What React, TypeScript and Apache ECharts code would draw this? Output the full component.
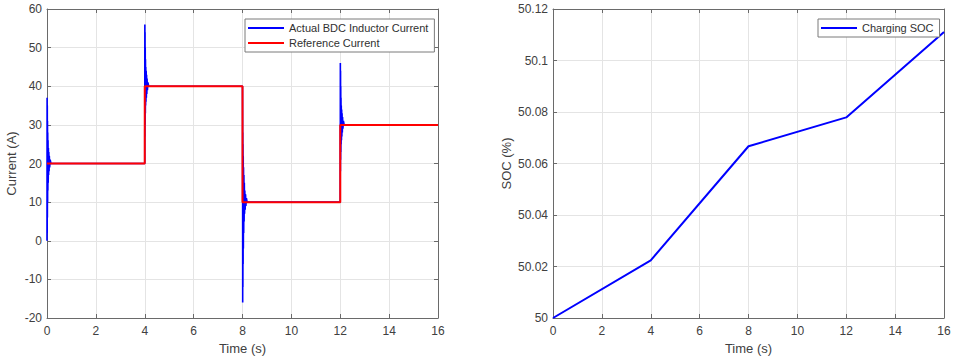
import React, { useEffect, useRef } from "react";
import * as echarts from "echarts";

// Time axis ticks shared by both panels
const timeTicks = [0, 2, 4, 6, 8, 10, 12, 14, 16];

// Reference current (A): step profile [time, value]
const referenceCurrent: [number, number][] = [
  [0, 20], [4, 20], [4, 40], [8, 40], [8, 10], [12, 10], [12, 30], [16, 30],
];

// Measured BDC inductor current (A), ringing after each step
const transientStart: [number, number][] = [
  [0, 0], [0.004, 37], [0.008, 2], [0.012, 35], [0.016, 6], [0.02, 31], [0.025, 10],
  [0.03, 28], [0.036, 13], [0.042, 26], [0.05, 15], [0.058, 24], [0.066, 17], [0.075, 23],
  [0.085, 18], [0.095, 22], [0.11, 19], [0.13, 21], [0.16, 20],
];
const transientUp40: [number, number][] = [
  [4, 20], [4.004, 56], [4.008, 27], [4.012, 54], [4.016, 30], [4.02, 50], [4.025, 33],
  [4.03, 47], [4.036, 35], [4.042, 45], [4.05, 36], [4.058, 44], [4.066, 37], [4.075, 43],
  [4.085, 38], [4.095, 42], [4.11, 39], [4.13, 41], [4.16, 40],
];
const transientDown10: [number, number][] = [
  [8, 40], [8.004, 31], [8.008, -16], [8.012, 28], [8.016, -12], [8.02, 25], [8.025, -6],
  [8.03, 22], [8.036, -2], [8.042, 19], [8.05, 2], [8.058, 17], [8.066, 5], [8.075, 15],
  [8.085, 7], [8.095, 13], [8.11, 8], [8.125, 12], [8.14, 9], [8.16, 11], [8.19, 10],
];
const transientUp30: [number, number][] = [
  [12, 10], [12.004, 46], [12.008, 18], [12.012, 44], [12.016, 21], [12.02, 40], [12.025, 23],
  [12.03, 37], [12.036, 25], [12.042, 35], [12.05, 26], [12.058, 34], [12.066, 27], [12.075, 33],
  [12.085, 28], [12.095, 32], [12.11, 29], [12.13, 31], [12.16, 30],
];
const actualTail: [number, number][] = [[16, 30]];

// Battery state of charge while charging (%)
const socTime = [0, 4, 8, 12, 16];
const socValues = [50, 50.0224, 50.0667, 50.0779, 50.1111];

const currentTicks = [-20, -10, 0, 10, 20, 30, 40, 50, 60];
const socTicks = [50, 50.02, 50.04, 50.06, 50.08, 50.1, 50.12];

const FONT = "Liberation Sans, Arial, Helvetica, sans-serif";
const TEXT = "#404040";
const AXIS = "#6a6a6a";
const GRIDLINE = "#e4e4e4";

export default function App() {
  const ref = useRef<HTMLDivElement>(null);

  useEffect(() => {
    if (!ref.current) return;
    const chart = echarts.init(ref.current, null, { renderer: "svg" });

    const actualCurrent = [
      ...transientStart,
      ...transientUp40,
      ...transientDown10,
      ...transientUp30,
      ...actualTail,
    ];

    const grids = [
      { left: 47, top: 9, width: 391, height: 309 },
      { left: 553, top: 9, width: 391, height: 309 },
    ];

    const xBase = (gridIndex: number) => ({
      type: "value" as const,
      gridIndex,
      min: timeTicks[0],
      max: timeTicks[timeTicks.length - 1],
      interval: 2,
    });

    const mainX = (gridIndex: number) => ({
      ...xBase(gridIndex),
      position: "bottom" as const,
      name: "Time (s)",
      nameLocation: "middle" as const,
      nameGap: 24,
      nameTextStyle: { color: TEXT, fontSize: 13, fontFamily: FONT },
      axisLine: { show: true, onZero: false, lineStyle: { color: AXIS, width: 1 } },
      axisTick: { show: true, inside: true, length: 4, lineStyle: { color: AXIS } },
      axisLabel: { color: TEXT, fontSize: 12, fontFamily: FONT, margin: 7 },
      splitLine: { show: true, lineStyle: { color: GRIDLINE, width: 1 } },
    });

    const topX = (gridIndex: number) => ({
      ...xBase(gridIndex),
      position: "top" as const,
      axisLine: { show: true, onZero: false, lineStyle: { color: AXIS, width: 1 } },
      axisTick: { show: true, inside: true, length: 4, lineStyle: { color: AXIS } },
      axisLabel: { show: false },
      splitLine: { show: false },
    });

    const yBase = (gridIndex: number, ticks: number[], interval: number) => ({
      type: "value" as const,
      gridIndex,
      min: ticks[0],
      max: ticks[ticks.length - 1],
      interval,
    });

    const mainY = (
      gridIndex: number,
      ticks: number[],
      interval: number,
      name: string,
      nameGap: number
    ) => ({
      ...yBase(gridIndex, ticks, interval),
      position: "left" as const,
      name,
      nameLocation: "middle" as const,
      nameGap,
      nameTextStyle: { color: TEXT, fontSize: 13, fontFamily: FONT },
      axisLine: { show: true, onZero: false, lineStyle: { color: AXIS, width: 1 } },
      axisTick: { show: true, inside: true, length: 4, lineStyle: { color: AXIS } },
      axisLabel: {
        color: TEXT,
        fontSize: 12,
        fontFamily: FONT,
        margin: 5,
        formatter: (v: number) => String(parseFloat(v.toFixed(2))),
      },
      splitLine: { show: true, lineStyle: { color: GRIDLINE, width: 1 } },
    });

    const rightY = (gridIndex: number, ticks: number[], interval: number) => ({
      ...yBase(gridIndex, ticks, interval),
      position: "right" as const,
      axisLine: { show: true, onZero: false, lineStyle: { color: AXIS, width: 1 } },
      axisTick: { show: true, inside: true, length: 4, lineStyle: { color: AXIS } },
      axisLabel: { show: false },
      splitLine: { show: false },
    });

    const legendCommon = {
      orient: "vertical" as const,
      backgroundColor: "#ffffff",
      borderColor: "#7a7a7a",
      borderWidth: 1,
      borderRadius: 0,
      icon: "rect",
      itemWidth: 36,
      itemHeight: 2,
      itemGap: 3,
      textStyle: { color: "#303030", fontSize: 11, fontFamily: FONT, lineHeight: 12 },
    };

    chart.setOption({
      animation: false,
      backgroundColor: "#ffffff",
      grid: grids,
      xAxis: [mainX(0), topX(0), mainX(1), topX(1)],
      yAxis: [
        mainY(0, currentTicks, 10, "Current (A)", 29),
        rightY(0, currentTicks, 10),
        mainY(1, socTicks, 0.02, "SOC (%)", 40),
        rightY(1, socTicks, 0.02),
      ],
      legend: [
        {
          ...legendCommon,
          left: 245,
          top: 19,
          padding: [3, 6, 3, 3],
          data: ["Actual BDC Inductor Current", "Reference Current"],
        },
        {
          ...legendCommon,
          left: 818,
          top: 19,
          padding: [3, 6, 3, 3],
          data: ["Charging SOC"],
        },
      ],
      series: [
        {
          name: "Actual BDC Inductor Current",
          type: "line",
          xAxisIndex: 0,
          yAxisIndex: 0,
          data: actualCurrent,
          showSymbol: false,
          color: "#0000ff",
          lineStyle: { color: "#0000ff", width: 1.6 },
          z: 2,
        },
        {
          name: "Reference Current",
          type: "line",
          xAxisIndex: 0,
          yAxisIndex: 0,
          data: referenceCurrent,
          showSymbol: false,
          color: "#ff0000",
          lineStyle: { color: "#ff0000", width: 2 },
          z: 3,
        },
        {
          name: "Charging SOC",
          type: "line",
          xAxisIndex: 2,
          yAxisIndex: 2,
          data: socTime.map((t, i) => [t, socValues[i]]),
          showSymbol: false,
          color: "#0000ff",
          lineStyle: { color: "#0000ff", width: 2 },
        },
      ],
    });

    return () => chart.dispose();
  }, []);

  return (
    <div
      ref={ref}
      style={{ position: "fixed", left: 0, top: 0, width: 956, height: 361 }}
    />
  );
}
